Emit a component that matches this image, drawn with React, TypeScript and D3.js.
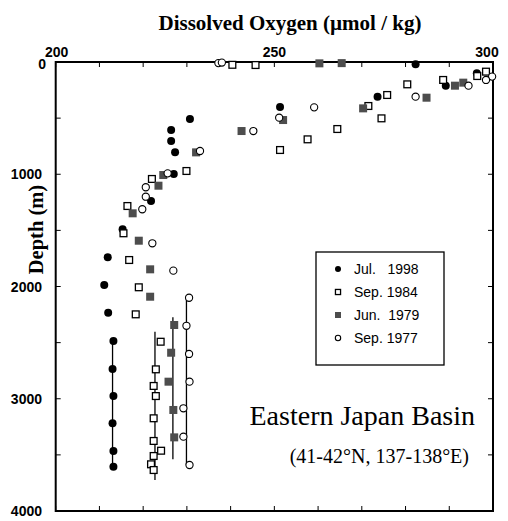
import React from "react";
import * as d3 from "d3";

// Dissolved oxygen (µmol/kg) vs depth (m)
const jul1998: [number, number][] = [
  [282.3, 20], [296.3, 100], [289.2, 211], [273.6, 309], [251.3, 400], [230.7, 508],
  [226.4, 606], [226.4, 704], [227.3, 805], [227.0, 998], [221.8, 1238], [215.3, 1490],
  [211.9, 1740], [211.1, 1987], [212.0, 2233], [213.2, 2485], [213.0, 2735], [213.2, 2976],
  [213.0, 3219], [213.2, 3466], [213.2, 3606],
];
const sep1984: [number, number][] = [
  [240.4, 25], [245.7, 27], [298.4, 86], [296.4, 125], [288.6, 160], [280.4, 199],
  [275.8, 294], [271.5, 392], [274.5, 502], [264.4, 597], [257.6, 689], [251.3, 784],
  [229.9, 971], [222.0, 1042], [216.4, 1283], [215.5, 1526], [216.8, 1764], [219.0, 2007],
  [218.3, 2248], [224.0, 2492], [222.9, 2738], [222.4, 2886], [222.9, 2976], [222.4, 3174],
  [222.4, 3376], [224.1, 3463], [222.4, 3510], [221.8, 3584], [222.4, 3635],
];
const jun1979: [number, number][] = [
  [260.3, 12], [265.4, 10], [293.2, 184], [291.3, 211], [284.8, 318], [270.3, 413],
  [252.0, 517], [242.5, 615], [232.1, 805], [224.6, 1007], [223.5, 1102], [217.6, 1348],
  [219.0, 1592], [221.6, 1847], [221.6, 2091], [227.1, 2343], [226.4, 2590], [225.8, 2848],
  [226.9, 3100], [227.1, 3344],
];
const sep1977: [number, number][] = [
  [237.2, 10], [238.0, 5], [299.8, 130], [298.4, 160], [294.4, 211], [282.3, 309],
  [259.1, 404], [251.1, 496], [245.2, 615], [233.0, 793], [225.6, 992], [220.6, 1116],
  [220.6, 1200], [219.8, 1312], [222.1, 1615], [226.9, 1859], [230.5, 2100], [229.9, 2350],
  [230.5, 2601], [230.6, 2848], [229.2, 3085], [229.2, 3338], [230.6, 3590],
];
// deep-water mean lines: [value, top depth, bottom depth]
const meanLines: [number, number, number][] = [
  [213.0, 2485, 3606],
  [222.7, 2403, 3724],
  [226.8, 2275, 3540],
  [229.9, 2105, 3590],
];
const legendLabels = ["Jul.   1998", "Sep. 1984", "Jun.  1979", "Sep. 1977"];
const xTickLabels = [200, 250, 300];
const yTickLabels = [0, 1000, 2000, 3000, 4000];

const W = 508, H = 521;
const L = 55.7, R = 493, T = 62, B = 511;
const GRAY = "#4d4d4d";

function Marker({ kind, cx, cy, s = 1 }: { kind: number; cx: number; cy: number; s?: number }) {
  if (kind === 0) return <circle cx={cx} cy={cy} r={4 * s} fill="#000" />;
  if (kind === 1)
    return <rect x={cx - 3.4 * s} y={cy - 3.4 * s} width={6.8 * s} height={6.8 * s} fill="#fff" stroke="#000" strokeWidth={1.3} />;
  if (kind === 2)
    return <rect x={cx - 4 * s} y={cy - 4 * s} width={8 * s} height={8 * s} fill={GRAY} />;
  return <circle cx={cx} cy={cy} r={3.6 * s} fill="#fff" stroke="#000" strokeWidth={1.1} />;
}

export default function App() {
  const x = d3.scaleLinear().domain([200, 300]).range([L, R]);
  const y = d3.scaleLinear().domain([0, 4000]).range([T, B]);
  const xMinor = d3.range(200, 301, 10);
  const yMinor = d3.range(0, 4001, 500);
  const series = [jul1998, sep1984, jun1979, sep1977];
  const arial = "Arial, 'Liberation Sans', sans-serif";
  const times = "'Times New Roman', 'Liberation Serif', serif";

  return (
    <svg width={W} height={H} style={{ position: "absolute", left: 0, top: 0, background: "#fff" }}>
      <rect width={W} height={H} fill="#fff" />
      <text x={290} y={30} textAnchor="middle" fontFamily={times} fontWeight="bold" fontSize={21}>
        Dissolved Oxygen (µmol / kg)
      </text>
      <text transform={`translate(43,${229.5}) rotate(-90)`} textAnchor="middle" fontFamily={times} fontWeight="bold" fontSize={20.5}>
        Depth (m)
      </text>
      {/* ticks */}
      {xMinor.map((v) => (
        <g key={"xt" + v}>
          <line x1={x(v)} x2={x(v)} y1={T} y2={T + 5} stroke="#000" strokeWidth={1} />
          <line x1={x(v)} x2={x(v)} y1={B} y2={B - 5} stroke="#000" strokeWidth={1} />
        </g>
      ))}
      {yMinor.map((v) => (
        <g key={"yt" + v}>
          <line x1={L} x2={L + 5} y1={y(v)} y2={y(v)} stroke="#000" strokeWidth={1} />
          <line x1={R} x2={R - 5} y1={y(v)} y2={y(v)} stroke="#000" strokeWidth={1} />
        </g>
      ))}
      <rect x={L} y={T} width={R - L} height={B - T} fill="none" stroke="#000" strokeWidth={2} />
      {xTickLabels.map((v) => (
        <text key={"xl" + v} x={x(v) + (v === 200 ? 1 : v === 300 ? -6 : 0)} y={57} textAnchor="middle" fontFamily={arial} fontWeight="bold" fontSize={14}>
          {v}
        </text>
      ))}
      {yTickLabels.map((v) => (
        <text key={"yl" + v} x={v === 0 ? 46 : 42} y={y(v) + (v === 0 ? 7 : 5)} textAnchor="end" fontFamily={arial} fontWeight="bold" fontSize={14}>
          {v}
        </text>
      ))}
      {/* mean lines */}
      {meanLines.map(([v, d0, d1], i) => (
        <line key={"ml" + i} x1={x(v)} x2={x(v)} y1={y(d0)} y2={y(d1)} stroke="#000" strokeWidth={1.3} />
      ))}
      {series.map((s, k) =>
        s.map(([v, d], i) => <Marker key={k + "-" + i} kind={k} cx={x(v)} cy={y(d)} />)
      )}
      {/* legend */}
      <rect x={316} y={252} width={128} height={113} fill="#fff" stroke="#000" strokeWidth={1.3} />
      {legendLabels.map((lab, i) => (
        <g key={"lg" + i}>
          <Marker kind={i} cx={338} cy={269 + i * 23} s={0.75} />
          <text x={354} y={274 + i * 23} fontFamily={arial} fontSize={14} style={{ whiteSpace: "pre" }}>
            {lab}
          </text>
        </g>
      ))}
      <text x={475} y={425} textAnchor="end" fontFamily={times} fontSize={28}>
        Eastern Japan Basin
      </text>
      <text x={469} y={463} textAnchor="end" fontFamily={times} fontSize={20}>
        (41-42°N, 137-138°E)
      </text>
    </svg>
  );
}
